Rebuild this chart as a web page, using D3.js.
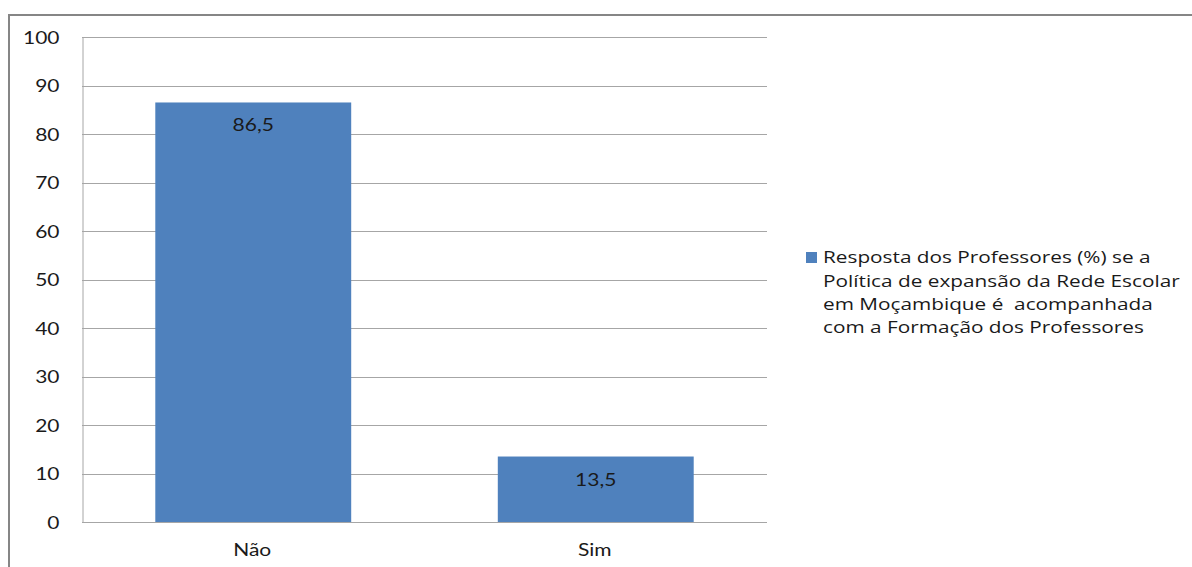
<!DOCTYPE html>
<html>
<head>
<meta charset="utf-8">
<script src="https://cdn.jsdelivr.net/npm/d3@7"></script>
<style>
  body { margin: 0; background: #fff; }
  svg { display: block; }
  text { font-family: Lato, "Open Sans", sans-serif; fill: #1a1a1a; }
  text.legend-text { font-family: "Open Sans", Lato, sans-serif; }
</style>
</head>
<body>
<svg id="chart" width="1192" height="567"></svg>
<script>
// Respostas dos professores (%)
const categories = ["Não", "Sim"];
const values = [86.5, 13.5];
const valueLabels = ["86,5", "13,5"];
const yTicks = [0, 10, 20, 30, 40, 50, 60, 70, 80, 90, 100];
const legendLines = [
  "Resposta dos Professores (%) se a",
  "Política de expansão da Rede Escolar",
  "em Moçambique é  acompanhada",
  "com a Formação dos Professores"
];

const svg = d3.select("#chart");
const plot = { left: 82, right: 767, top: 37, bottom: 522 };
const sx = 1.2;        // horizontal widening of the axis / value lettering
const sxLegend = 1.26; // horizontal widening of the legend lettering

// place a text at (x, y) with widened lettering
function placeText(sel, x, y, k = sx) {
  sel.attr("x", 0).attr("y", 0)
    .attr("transform", (d, i) => `translate(${typeof x === "function" ? x(d, i) : x},${typeof y === "function" ? y(d, i) : y}) scale(${k},1)`);
}

// outer frame of the chart
svg.append("path")
  .attr("d", `M9,567 V15 H1192`)
  .attr("fill", "none")
  .attr("stroke", "#868686")
  .attr("stroke-width", 2);

const y = d3.scaleLinear().domain([0, 100]).range([plot.bottom, plot.top]);
const x = d3.scaleBand().domain(categories)
  .range([plot.left, plot.right])
  .paddingInner(0.428).paddingOuter(0.214);

// horizontal gridlines
svg.append("g").selectAll("line").data(yTicks).join("line")
  .attr("x1", plot.left).attr("x2", plot.right)
  .attr("y1", d => Math.round(y(d)) + 0.5).attr("y2", d => Math.round(y(d)) + 0.5)
  .attr("stroke", "#a6a6a6").attr("stroke-width", 1);

// y axis
const yAxis = svg.append("g")
  .attr("transform", `translate(${plot.left + 0.5},0)`)
  .call(d3.axisLeft(y).tickValues(yTicks).tickSize(0));
yAxis.select(".domain").attr("stroke", "#a6a6a6");
yAxis.selectAll(".tick text")
  .style("font-size", "17.5px")
  .attr("dy", "0.35em")
  .attr("x", 0)
  .attr("transform", `translate(-23,0) scale(${sx},1)`);

// bars
svg.append("g").selectAll("rect").data(values).join("rect")
  .attr("x", (d, i) => x(categories[i]))
  .attr("width", x.bandwidth())
  .attr("y", d => y(d))
  .attr("height", d => y(0) - y(d))
  .attr("fill", "#4f81bd");

// value labels inside the bars
svg.append("g").selectAll("text").data(values).join("text")
  .attr("text-anchor", "middle")
  .style("font-size", "17.5px")
  .text((d, i) => valueLabels[i])
  .call(placeText, (d, i) => x(categories[i]) + x.bandwidth() / 2, d => y(d) + 29);

// category labels
svg.append("g").selectAll("text").data(categories).join("text")
  .attr("text-anchor", "middle")
  .style("font-size", "17.5px")
  .text(d => d)
  .call(placeText, d => x(d) + x.bandwidth() / 2 - 1, plot.bottom + 34);

// legend
const legend = svg.append("g");
legend.append("rect")
  .attr("x", 806).attr("y", 252)
  .attr("width", 11).attr("height", 11)
  .attr("fill", "#4f81bd");
legend.append("g").selectAll("text").data(legendLines).join("text")
  .attr("class", "legend-text")
  .style("font-size", "16.5px")
  .style("white-space", "pre")
  .text(d => d)
  .call(placeText, 823, (d, i) => 263.3 + i * 23.3, sxLegend);
</script>
</body>
</html>
